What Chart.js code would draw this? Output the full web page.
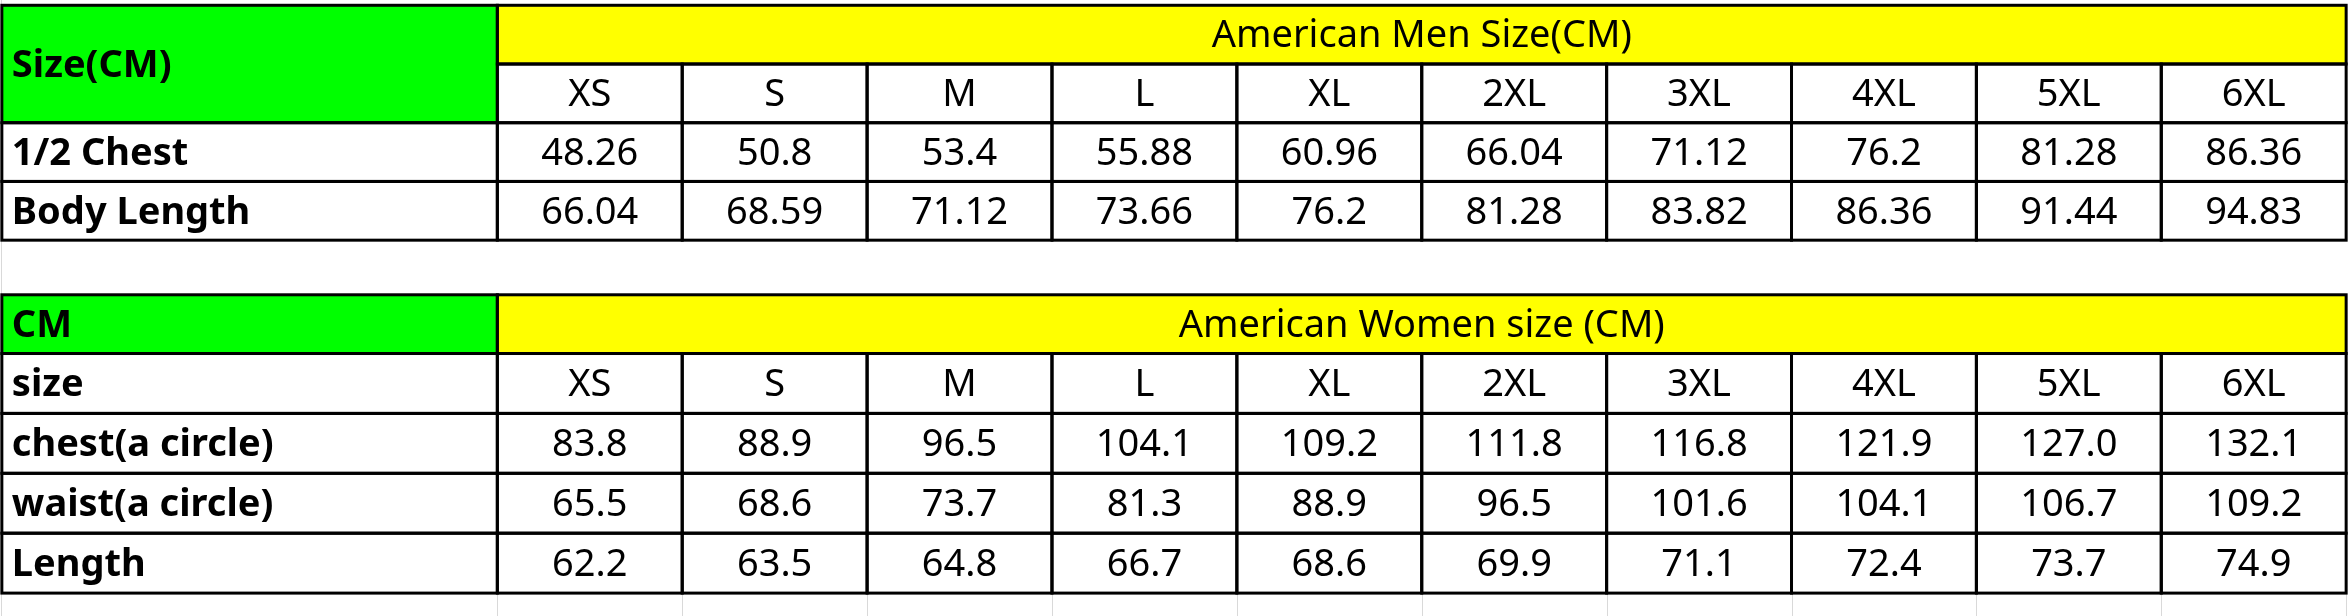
<!DOCTYPE html>
<html>
<head>
<meta charset="utf-8">
<script src="https://cdn.jsdelivr.net/npm/chart.js@4.4.1/dist/chart.umd.min.js"></script>
<style>
  html, body { margin: 0; padding: 0; background: #fff; }
  #wrap { width: 2348px; height: 616px; }
</style>
</head>
<body>
<div id="wrap"><canvas id="sizeChart"></canvas></div>
<script>
// table data
const sizes = ["XS", "S", "M", "L", "XL", "2XL", "3XL", "4XL", "5XL", "6XL"];

const menTitle = "American Men Size(CM)";
const menCorner = "Size(CM)";
const menRowLabels = ["1/2 Chest", "Body Length"];
const menChest = ["48.26", "50.8", "53.4", "55.88", "60.96", "66.04", "71.12", "76.2", "81.28", "86.36"];
const menLength = ["66.04", "68.59", "71.12", "73.66", "76.2", "81.28", "83.82", "86.36", "91.44", "94.83"];

const womenTitle = "American Women size (CM)";
const womenCorner = "CM";
const womenRowLabels = ["size", "chest(a circle)", "waist(a circle)", "Length"];
const womenChest = ["83.8", "88.9", "96.5", "104.1", "109.2", "111.8", "116.8", "121.9", "127.0", "132.1"];
const womenWaist = ["65.5", "68.6", "73.7", "81.3", "88.9", "96.5", "101.6", "104.1", "106.7", "109.2"];
const womenLength = ["62.2", "63.5", "64.8", "66.7", "68.6", "69.9", "71.1", "72.4", "73.7", "74.9"];

const LABEL_W = 2.68;   // label column width in data-column units
const MEN_TOP = 0;
const WOMEN_TOP = 4.93;

const GREEN = "#00ff00";
const YELLOW = "#ffff00";
const FONT = "'Noto Sans', sans-serif";

// build cell list: x0,x1,y0,y1 in scale units
function buildCells() {
  const cells = [];
  const add = (x0, x1, y0, y1, text, opts) => cells.push(Object.assign({ x0, x1, y0, y1, text }, opts));

  // men table
  add(-LABEL_W, 0, MEN_TOP, MEN_TOP + 2, menCorner, { fill: GREEN, bold: true, align: "left" });
  add(0, sizes.length, MEN_TOP, MEN_TOP + 1, menTitle, { fill: YELLOW });
  sizes.forEach((s, i) => add(i, i + 1, MEN_TOP + 1, MEN_TOP + 2, s, {}));
  [menChest, menLength].forEach((row, r) => {
    const y = MEN_TOP + 2 + r;
    add(-LABEL_W, 0, y, y + 1, menRowLabels[r], { bold: true, align: "left" });
    row.forEach((v, i) => add(i, i + 1, y, y + 1, v, {}));
  });

  // women table
  add(-LABEL_W, 0, WOMEN_TOP, WOMEN_TOP + 1, womenCorner, { fill: GREEN, bold: true, align: "left" });
  add(0, sizes.length, WOMEN_TOP, WOMEN_TOP + 1, womenTitle, { fill: YELLOW });
  [sizes, womenChest, womenWaist, womenLength].forEach((row, r) => {
    const y = WOMEN_TOP + 1 + r * 1.02;
    add(-LABEL_W, 0, y, y + 1.02, womenRowLabels[r], { bold: true, align: "left" });
    row.forEach((v, i) => add(i, i + 1, y, y + 1.02, v, {}));
  });
  return cells;
}

const cells = buildCells();

const tablePlugin = {
  id: "tablePlugin",
  afterDraw(chart) {
    const { ctx, scales: { x, y } } = chart;
    ctx.save();
    // faint spreadsheet gridlines in the gap and below
    ctx.strokeStyle = "#d9d9d9";
    ctx.lineWidth = 1;
    for (let i = 0; i <= sizes.length; i++) {
      const px = Math.round(x.getPixelForValue(i)) + 0.5;
      ctx.beginPath();
      ctx.moveTo(px, y.getPixelForValue(WOMEN_TOP + 5.1));
      ctx.lineTo(px, y.getPixelForValue(WOMEN_TOP + 6));
      ctx.stroke();
    }
    ctx.beginPath();
    ctx.moveTo(1.5, 0);
    ctx.lineTo(1.5, chart.height);
    ctx.stroke();

    cells.forEach(c => {
      const l = x.getPixelForValue(c.x0), r = x.getPixelForValue(c.x1);
      const t = y.getPixelForValue(c.y0), b = y.getPixelForValue(c.y1);
      ctx.fillStyle = c.fill || "#ffffff";
      ctx.fillRect(l, t, r - l, b - t);
    });
    cells.forEach(c => {
      const l = x.getPixelForValue(c.x0), r = x.getPixelForValue(c.x1);
      const t = y.getPixelForValue(c.y0), b = y.getPixelForValue(c.y1);
      ctx.strokeStyle = "#000";
      ctx.lineWidth = 3;
      ctx.strokeRect(l, t, r - l, b - t);
      ctx.fillStyle = "#000";
      ctx.font = (c.bold ? "bold " : "") + "38px " + FONT;
      ctx.textBaseline = "middle";
      const cy = (t + b) / 2 + 2;
      if (c.align === "left") {
        ctx.textAlign = "left";
        ctx.fillText(c.text, l + 10, cy);
      } else {
        ctx.textAlign = "center";
        ctx.fillText(c.text, (l + r) / 2, cy);
      }
    });
    ctx.restore();
  }
};

new Chart(document.getElementById("sizeChart"), {
  type: "scatter",
  data: { datasets: [{ data: [] }] },
  options: {
    responsive: true,
    maintainAspectRatio: false,
    animation: false,
    devicePixelRatio: 1,
    layout: { padding: 0 },
    plugins: { legend: { display: false }, tooltip: { enabled: false } },
    scales: {
      x: { type: "linear", min: -2.69, max: 10.01, display: false },
      y: { type: "linear", reverse: true, min: -0.09, max: 10.4, display: false }
    }
  },
  plugins: [tablePlugin]
});
</script>
</body>
</html>
